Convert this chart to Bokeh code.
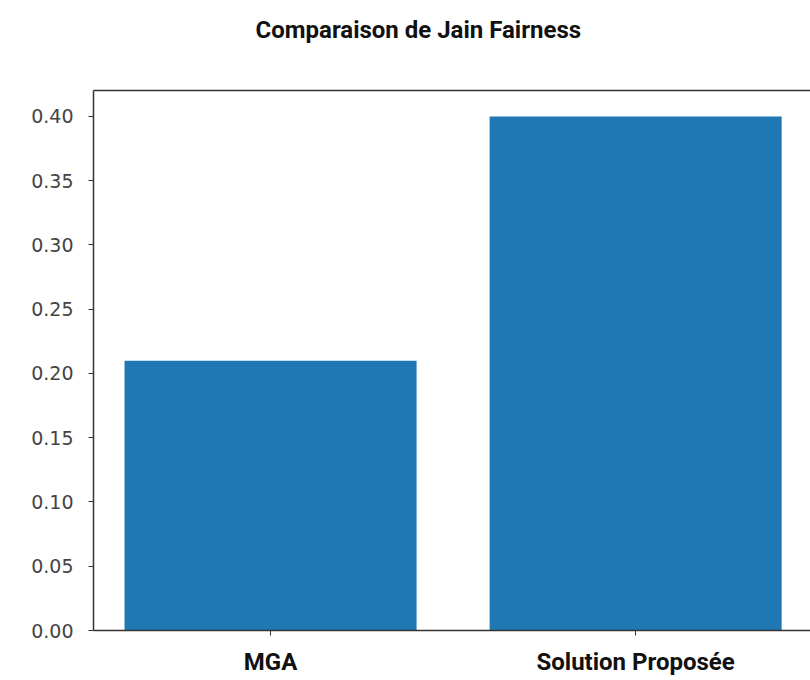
from bokeh.plotting import figure
from bokeh.models import Range1d, FixedTicker, LinearAxis, Title
from bokeh.embed import file_html
from bokeh.resources import INLINE

categories = ["MGA", "Solution Proposée"]
fairness = [0.21, 0.40]
y_ticks = [0.00, 0.05, 0.10, 0.15, 0.20, 0.25, 0.30, 0.35, 0.40]

xs = list(range(len(categories)))

p = figure(width=810, height=678, output_backend="svg", toolbar_location=None,
           x_range=Range1d(-0.485, 1.479), y_range=Range1d(0, 0.4202),
           min_border_left=93, min_border_right=0, min_border_top=0, min_border_bottom=0)

p.title = Title(text="Comparaison de Jain Fairness", align="left", offset=162,
                text_font="Roboto", text_font_style="bold", text_font_size="24px",
                text_color="#111111", standoff=10,
                padding=(0, 0, 8, 42))

p.vbar(x=xs, top=fairness, width=0.8, bottom=0, fill_color="#1f77b4", line_color=None)

p.xgrid.visible = False
p.ygrid.visible = False
p.outline_line_color = None
p.background_fill_color = "white"
p.border_fill_color = "white"

ax = p.xaxis[0]
ax.ticker = FixedTicker(ticks=xs)
ax.major_label_overrides = {i: c for i, c in zip(xs, categories)}
ax.major_label_text_font = "Roboto"
ax.major_label_text_font_style = "bold"
ax.major_label_text_font_size = "24px"
ax.major_label_text_color = "#111111"
ax.major_label_standoff = 12
ax.major_tick_out = 5
ax.major_tick_in = 0
ax.minor_tick_line_color = None
ax.axis_line_color = "#333333"
ax.axis_line_width = 1.5
ax.major_tick_line_color = "#333333"

ay = p.yaxis[0]
ay.ticker = FixedTicker(ticks=y_ticks)
ay.major_label_overrides = {t: f"{t:.2f}" for t in y_ticks}
ay.major_label_text_font = "DejaVu Sans"
ay.major_label_text_font_size = "19px"
ay.major_label_text_color = "#444444"
ay.major_label_standoff = 15
ay.major_tick_out = 5
ay.major_tick_in = 0
ay.minor_tick_line_color = None
ay.axis_line_color = "#333333"
ay.axis_line_width = 1.5
ay.major_tick_line_color = "#333333"

top_axis = LinearAxis(ticker=FixedTicker(ticks=[]), major_label_text_font_size="0px",
                      major_tick_out=0, major_tick_in=0, major_label_standoff=0,
                      axis_line_color="#333333", axis_line_width=1.5,
                      major_tick_line_color=None, minor_tick_line_color=None)
p.add_layout(top_axis, "above")

open("out.html", "w").write(file_html(p, INLINE))
